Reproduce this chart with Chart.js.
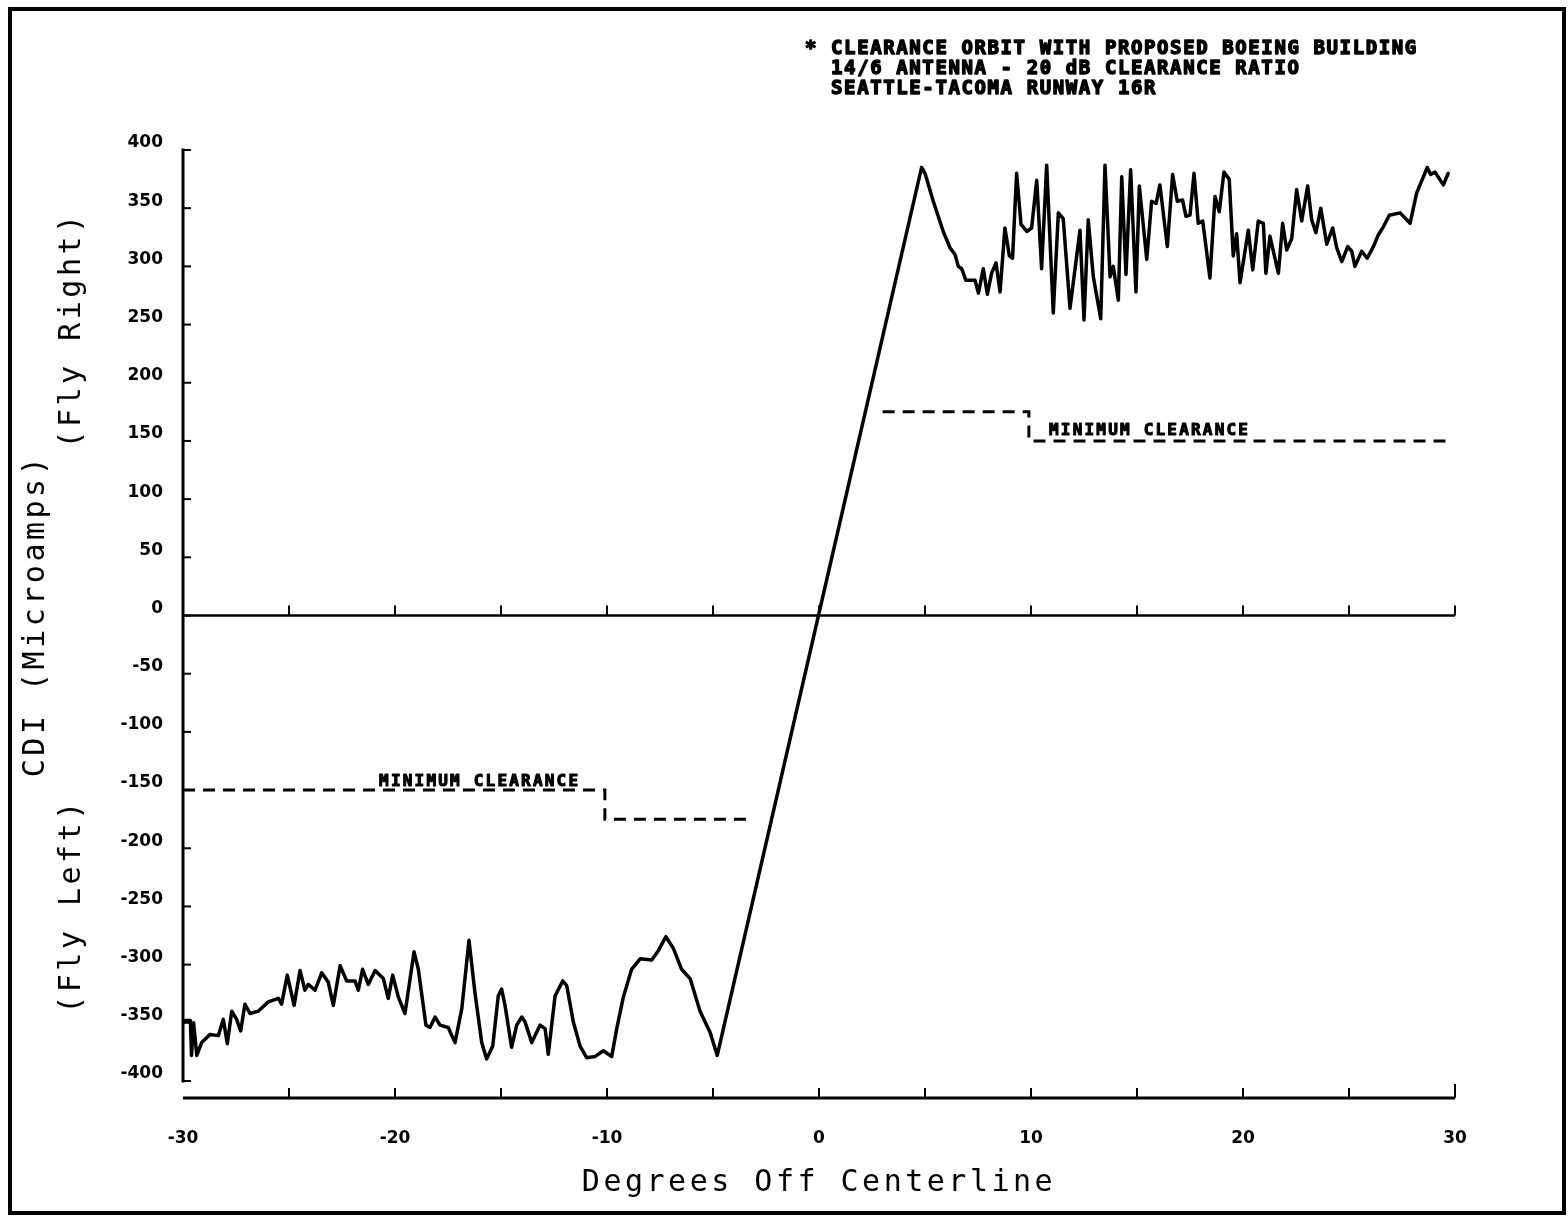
<!DOCTYPE html>
<html>
<head>
<meta charset="utf-8">
<script src="https://cdn.jsdelivr.net/npm/chart.js@4.4.1/dist/chart.umd.min.js"></script>
<style>
  html, body { margin: 0; padding: 0; background: #fff; }
  #wrap { width: 1568px; height: 1216px; position: relative; }
  canvas { display: block; }
</style>
</head>
<body>
<div id="wrap"><canvas id="c" width="1568" height="1216"></canvas></div>
<script>
// ---- Data ----
const degrees = [-29.9,-29.65,-29.6,-29.5,-29.35,-29.12,-28.73,-28.33,-28.10,-27.91,-27.70,-27.47,-27.28,-27.08,-26.84,-26.45,-25.98,-25.50,-25.35,-25.08,-24.76,-24.48,-24.25,-24.09,-23.77,-23.46,-23.15,-22.91,-22.59,-22.28,-21.89,-21.73,-21.53,-21.26,-20.94,-20.55,-20.32,-20.11,-19.84,-19.53,-19.10,-18.90,-18.54,-18.35,-18.11,-17.88,-17.49,-17.17,-16.85,-16.51,-16.23,-15.91,-15.68,-15.39,-15.13,-14.97,-14.81,-14.50,-14.26,-14.02,-13.87,-13.55,-13.16,-12.92,-12.77,-12.45,-12.09,-11.90,-11.59,-11.27,-10.96,-10.57,-10.17,-9.78,-9.54,-9.23,-8.84,-8.44,-7.89,-7.58,-7.22,-6.87,-6.48,-6.08,-5.61,-5.14,-4.80,4.84,5.0,5.39,5.86,6.18,6.42,6.57,6.73,6.93,7.12,7.36,7.52,7.75,7.94,8.14,8.35,8.54,8.77,8.98,9.13,9.32,9.53,9.80,10.03,10.27,10.50,10.74,11.05,11.29,11.52,11.84,12.31,12.50,12.70,12.94,13.29,13.49,13.73,13.88,14.12,14.28,14.48,14.70,14.95,15.11,15.46,15.69,15.90,16.08,16.43,16.68,16.90,17.15,17.31,17.50,17.69,17.89,18.10,18.44,18.68,18.88,19.10,19.35,19.54,19.70,19.86,20.25,20.46,20.72,20.96,21.08,21.27,21.67,21.87,22.06,22.30,22.53,22.77,23.05,23.24,23.44,23.67,23.95,24.23,24.42,24.66,24.94,25.13,25.28,25.60,25.86,26.15,26.38,26.62,26.90,27.41,27.88,28.19,28.69,28.85,29.06,29.45,29.68];
const cdiMicroamps = [-348,-348,-378,-350,-378,-367,-360,-361,-347,-368,-340,-347,-357,-334,-342,-340,-332,-329,-334,-309,-335,-305,-322,-317,-322,-307,-315,-335,-301,-314,-314,-322,-304,-317,-305,-312,-329,-309,-328,-342,-289,-304,-352,-354,-345,-352,-354,-367,-338,-279,-324,-367,-381,-370,-327,-321,-335,-371,-352,-345,-349,-367,-352,-355,-377,-327,-314,-318,-349,-370,-380,-379,-374,-379,-355,-328,-304,-295,-296,-288,-276,-286,-304,-312,-340,-358,-378,385,380,356,330,316,310,300,298,288,288,288,277,298,276,294,303,278,333,309,307,380,336,330,333,374,298,387,260,346,341,264,331,254,340,291,255,387,291,300,271,377,293,383,278,369,306,356,354,370,317,379,356,357,343,344,380,337,339,290,360,347,381,375,309,328,286,331,297,339,337,294,326,294,337,314,324,366,339,369,340,329,350,319,333,316,304,317,313,300,313,307,317,327,334,344,346,337,363,385,379,381,370,380];

const clearRightDeg = [3.0, 9.9, 9.9, 29.6];
const clearRightCdi = [175, 175, 150, 150];
const clearLeftDeg  = [-30, -10.1, -10.1, -3.2];
const clearLeftCdi  = [-150, -150, -175, -175];

const xTickLabels = [-30, -20, -10, 0, 10, 20, 30];
const xTickMarks  = [-25, -20, -15, -10, -5, 0, 5, 10, 15, 20, 25, 30];
const yTickLabels = [-400,-350,-300,-250,-200,-150,-100,-50,0,50,100,150,200,250,300,350,400];

const noteLines = [
  '* CLEARANCE ORBIT WITH PROPOSED BOEING BUILDING',
  '  14/6 ANTENNA - 20 dB CLEARANCE RATIO',
  '  SEATTLE-TACOMA RUNWAY 16R'
];
const clearanceLabel = 'MINIMUM CLEARANCE';
const xTitle = 'Degrees Off Centerline';
const yTitle = 'CDI (Microamps)';
const yTitleUp = '(Fly Right)';
const yTitleDown = '(Fly Left)';

const toPts = (xs, ys) => xs.map((v, i) => ({ x: v, y: ys[i] }));

// ---- Decoration plugin: frame, plotter-style axes, tick marks, text ----
const decor = {
  id: 'decor',
  beforeDatasetsDraw(chart) {
    const { ctx, chartArea: a, scales: { x, y } } = chart;
    const seg = (x1, y1, x2, y2) => { ctx.beginPath(); ctx.moveTo(x1, y1); ctx.lineTo(x2, y2); ctx.stroke(); };
    ctx.save();
    ctx.strokeStyle = '#000';
    ctx.lineCap = 'butt';
    // outer frame
    ctx.lineWidth = 4;
    ctx.strokeRect(10, 9, 1554, 1204);
    // left axis
    ctx.lineWidth = 3;
    const yTop = y.getPixelForValue(400), yBot = y.getPixelForValue(-400);
    seg(a.left, yTop - 1.5, a.left, yBot + 1.5);
    ctx.lineWidth = 2;
    yTickLabels.forEach(v => { const p = y.getPixelForValue(v); seg(a.left, p, a.left + 8, p); });
    // bottom axis
    ctx.lineWidth = 3;
    seg(a.left, a.bottom, a.right, a.bottom);
    ctx.lineWidth = 2;
    xTickMarks.forEach(v => { const p = x.getPixelForValue(v); seg(p, a.bottom, p, a.bottom - (v === 30 ? 14 : 10)); });
    // zero line
    const y0 = y.getPixelForValue(0);
    ctx.lineWidth = 2.5;
    seg(a.left, y0, a.right, y0);
    ctx.lineWidth = 2;
    xTickMarks.forEach(v => { const p = x.getPixelForValue(v); seg(p, y0, p, y0 - 10); });
    ctx.restore();
  },
  afterDraw(chart) {
    const { ctx, chartArea: a, scales: { x, y } } = chart;
    ctx.save();
    ctx.fillStyle = '#000';
    ctx.strokeStyle = '#000';
    ctx.lineJoin = 'round';
    // note block (heavy plotter lettering)
    ctx.font = 'bold 19px "DejaVu Sans Mono"';
    ctx.letterSpacing = '1.6px';
    ctx.textAlign = 'left';
    ctx.textBaseline = 'alphabetic';
    ctx.lineWidth = 1.4;
    noteLines.forEach((t, i) => { ctx.fillText(t, 805, 54 + i * 20); ctx.strokeText(t, 805, 54 + i * 20); });
    // minimum clearance labels
    ctx.font = 'bold 16px "DejaVu Sans Mono"';
    ctx.letterSpacing = '2.2px';
    ctx.lineWidth = 1.1;
    const lab = (px, py) => { ctx.fillText(clearanceLabel, px, py); ctx.strokeText(clearanceLabel, px, py); };
    lab(x.getPixelForValue(10.85), y.getPixelForValue(150) - 6);
    lab(x.getPixelForValue(-20.75), y.getPixelForValue(-150) - 4);
    // axis titles
    ctx.font = '30px "DejaVu Sans Mono"';
    ctx.letterSpacing = '3.5px';
    ctx.textAlign = 'center';
    ctx.textBaseline = 'middle';
    ctx.fillText(xTitle, (a.left + a.right) / 2, 1183);
    const rot = (t, cx, cy) => { ctx.save(); ctx.translate(cx, cy); ctx.rotate(-Math.PI / 2); ctx.fillText(t, 0, 0); ctx.restore(); };
    rot(yTitle, 36, y.getPixelForValue(0));
    rot(yTitleUp, 72, 330);
    rot(yTitleDown, 72, 906);
    ctx.restore();
  }
};

new Chart(document.getElementById('c'), {
  type: 'scatter',
  data: {
    datasets: [
      { label: 'CDI', data: toPts(degrees, cdiMicroamps), showLine: true, borderColor: '#000', borderWidth: 3.5, pointRadius: 0, tension: 0, borderJoinStyle: 'round', borderCapStyle: 'round' },
      { label: 'Clearance right', data: toPts(clearRightDeg, clearRightCdi), showLine: true, borderColor: '#000', borderWidth: 3, borderDash: [12, 8], pointRadius: 0, tension: 0 },
      { label: 'Clearance left', data: toPts(clearLeftDeg, clearLeftCdi), showLine: true, borderColor: '#000', borderWidth: 3, borderDash: [12, 8], pointRadius: 0, tension: 0 }
    ]
  },
  options: {
    responsive: false,
    animation: false,
    layout: { padding: { top: 150, right: 113, left: 0, bottom: 0 } },
    plugins: { legend: { display: false }, tooltip: { enabled: false } },
    scales: {
      x: {
        type: 'linear', position: 'bottom', min: -30, max: 30,
        grid: { display: false }, border: { display: false },
        afterBuildTicks: s => { s.ticks = xTickLabels.map(v => ({ value: v })); },
        afterFit: s => { s.height = 118; },
        ticks: { color: '#000', font: { family: 'DejaVu Sans', weight: 'bold', size: 17 }, padding: 22, maxRotation: 0, autoSkip: false }
      },
      y: {
        type: 'linear', position: 'left', min: -414.6, max: 400,
        grid: { display: false }, border: { display: false },
        afterBuildTicks: s => { s.ticks = yTickLabels.map(v => ({ value: v })); },
        afterFit: s => { s.width = 183; },
        ticks: { color: '#000', font: { family: 'DejaVu Sans', weight: 'bold', size: 17 }, padding: 12, labelOffset: -7, autoSkip: false }
      }
    }
  },
  plugins: [decor]
});
</script>
</body>
</html>
